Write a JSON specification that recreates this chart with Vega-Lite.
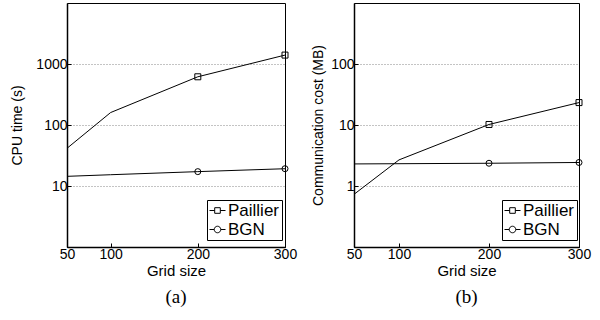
{
  "$schema": "https://vega.github.io/schema/vega-lite/v6.json",
  "padding": {"left": 10, "top": 2, "right": 5, "bottom": 0},
  "background": "white",
  "config": {
    "view": {"stroke": "black", "strokeWidth": 1},
    "font": "Liberation Sans",
    "axis": {"labelFont": "Liberation Sans", "titleFont": "Liberation Sans", "labelFontSize": 14, "titleFontSize": 15, "titleFontWeight": "normal", "labelColor": "black", "titleColor": "black", "domainColor": "black", "domainWidth": 1.5, "tickColor": "black", "tickSize": -4, "labelPadding": 4, "labelFlush": false},
    "axisX": {"grid": false},
    "axisY": {"grid": true, "gridColor": "#888888", "gridDash": [1, 2], "gridWidth": 1, "titleFontSize": 14},
    "legend": {"strokeColor": "black", "fillColor": "white", "padding": 2, "labelFont": "Liberation Sans", "labelFontSize": 17, "labelColor": "black", "symbolSize": 256, "symbolStrokeWidth": 1, "symbolStrokeColor": "black", "symbolFillColor": "transparent", "rowPadding": 1, "labelOffset": 2},
    "title": {"orient": "bottom", "font": "Liberation Serif", "fontSize": 19, "fontWeight": "normal", "color": "black", "offset": 10}
  },
  "datasets": {
    "cpu": [
      {"grid": 50, "series": "Paillier", "value": 41.5},
      {"grid": 100, "series": "Paillier", "value": 160},
      {"grid": 200, "series": "Paillier", "value": 617},
      {"grid": 300, "series": "Paillier", "value": 1400},
      {"grid": 50, "series": "BGN", "value": 14.4},
      {"grid": 100, "series": "BGN", "value": 15.3},
      {"grid": 200, "series": "BGN", "value": 17.2},
      {"grid": 300, "series": "BGN", "value": 19.2}
    ],
    "comm": [
      {"grid": 50, "series": "Paillier", "value": 0.73},
      {"grid": 100, "series": "Paillier", "value": 2.68},
      {"grid": 200, "series": "Paillier", "value": 10.2},
      {"grid": 300, "series": "Paillier", "value": 23.3},
      {"grid": 50, "series": "BGN", "value": 2.30},
      {"grid": 100, "series": "BGN", "value": 2.32},
      {"grid": 200, "series": "BGN", "value": 2.36},
      {"grid": 300, "series": "BGN", "value": 2.43}
    ]
  },
  "resolve": {"scale": {"shape": "independent"}, "legend": {"shape": "independent"}},
  "spacing": 13,
  "hconcat": [
    {
      "width": 218,
      "height": 244,
      "title": "(a)",
      "data": {"name": "cpu"},
      "encoding": {
        "x": {"field": "grid", "type": "quantitative", "scale": {"domain": [50, 300], "nice": false, "zero": false}, "axis": {"values": [50, 100, 200, 300], "title": "Grid size", "titlePadding": 2}},
        "y": {"field": "value", "type": "quantitative", "scale": {"type": "log", "domain": [1, 10000], "nice": false}, "axis": {"values": [10, 100, 1000], "format": "d", "title": "CPU time (s)", "titlePadding": 11}}
      },
      "resolve": {"scale": {"shape": "independent"}, "legend": {"shape": "independent"}},
      "layer": [
        {"mark": {"type": "line", "color": "black", "strokeWidth": 1, "clip": true}, "encoding": {"detail": {"field": "series"}}},
        {
          "transform": [{"filter": "datum.grid >= 200"}],
          "mark": {"type": "point", "filled": false, "color": "black", "strokeWidth": 1, "opacity": 1, "size": 36},
          "encoding": {
            "shape": {"field": "series", "type": "nominal", "scale": {"domain": ["Paillier", "BGN"], "range": ["square", "circle"]}, "legend": null}
          }
        },
        {
          "transform": [{"filter": "datum.grid < 0"}],
          "mark": {"type": "point", "filled": false, "color": "black", "strokeWidth": 1, "opacity": 1},
          "encoding": {
            "shape": {"field": "series", "type": "nominal", "scale": {"domain": ["Paillier", "BGN"], "range": ["M-1,0H-0.35M0.35,0H1M-0.35,-0.35H0.35V0.35H-0.35Z", "M-1,0H-0.41M0.41,0H1M-0.41,0A0.41,0.41,0,1,0,0.41,0A0.41,0.41,0,1,0,-0.41,0Z"]}, "legend": {"title": null, "orient": "none", "legendX": 140, "legendY": 197}}
          }
        }
      ]
    },
    {
      "width": 225,
      "height": 244,
      "title": "(b)",
      "data": {"name": "comm"},
      "encoding": {
        "x": {"field": "grid", "type": "quantitative", "scale": {"domain": [50, 300], "nice": false, "zero": false}, "axis": {"values": [50, 100, 200, 300], "title": "Grid size", "titlePadding": 2}},
        "y": {"field": "value", "type": "quantitative", "scale": {"type": "log", "domain": [0.1, 1000], "nice": false}, "axis": {"values": [1, 10, 100], "format": "d", "title": "Communication cost (MB)", "titlePadding": 5}}
      },
      "resolve": {"scale": {"shape": "independent"}, "legend": {"shape": "independent"}},
      "layer": [
        {"mark": {"type": "line", "color": "black", "strokeWidth": 1, "clip": true}, "encoding": {"detail": {"field": "series"}}},
        {
          "transform": [{"filter": "datum.grid >= 200"}],
          "mark": {"type": "point", "filled": false, "color": "black", "strokeWidth": 1, "opacity": 1, "size": 36},
          "encoding": {
            "shape": {"field": "series", "type": "nominal", "scale": {"domain": ["Paillier", "BGN"], "range": ["square", "circle"]}, "legend": null}
          }
        },
        {
          "transform": [{"filter": "datum.grid < 0"}],
          "mark": {"type": "point", "filled": false, "color": "black", "strokeWidth": 1, "opacity": 1},
          "encoding": {
            "shape": {"field": "series", "type": "nominal", "scale": {"domain": ["Paillier", "BGN"], "range": ["M-1,0H-0.35M0.35,0H1M-0.35,-0.35H0.35V0.35H-0.35Z", "M-1,0H-0.41M0.41,0H1M-0.41,0A0.41,0.41,0,1,0,0.41,0A0.41,0.41,0,1,0,-0.41,0Z"]}, "legend": {"title": null, "orient": "none", "legendX": 148, "legendY": 197}}
          }
        }
      ]
    }
  ]
}
